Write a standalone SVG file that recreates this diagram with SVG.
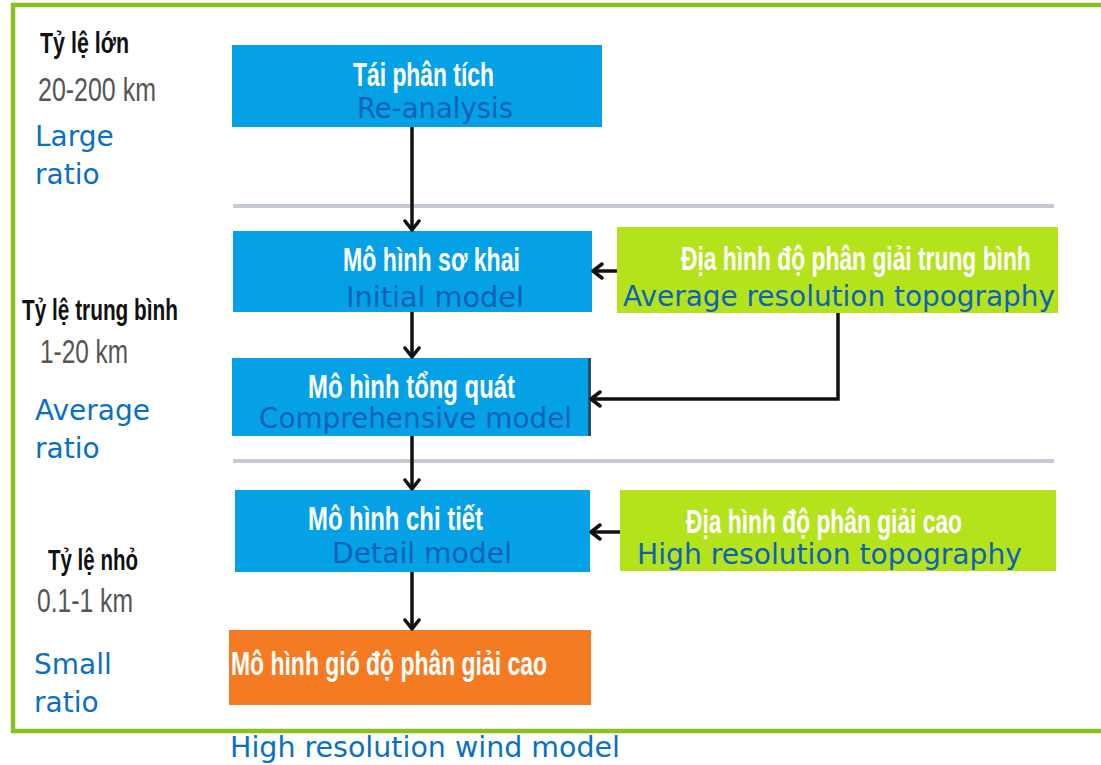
<svg xmlns="http://www.w3.org/2000/svg" width="1101" height="765" viewBox="0 0 1101 765">
<defs>
<marker id="ah" markerWidth="16" markerHeight="18" refX="13" refY="9" orient="auto" markerUnits="userSpaceOnUse">
<path d="M4,2 L13,9 L4,16" fill="none" stroke="#111" stroke-width="3.5" stroke-linecap="round" stroke-linejoin="round"/>
</marker>
</defs>
<style>
.blue{fill:#04a1e6}
.green{fill:#b4e31c}
.orange{fill:#f57b22}
.vt{font-family:"Liberation Sans",Arial,sans-serif;font-weight:bold;fill:#fff;font-size:33px}
.en{font-family:"DejaVu Sans","Noto Sans",sans-serif;fill:#0e62b6;font-size:28px}
.side{font-family:"DejaVu Sans","Noto Sans",sans-serif;fill:#0a70c2;font-size:28px}
.lbl{font-family:"Liberation Sans",Arial,sans-serif;font-weight:bold;fill:#111;font-size:29px}
.km{font-family:"Liberation Sans",Arial,sans-serif;fill:#555;font-size:33px}
.sep{stroke:#c3cad2;stroke-width:4}
.conn{fill:none;stroke:#111;stroke-width:3.5}
</style>
<rect x="0" y="0" width="1101" height="765" fill="#fff"/>
<path d="M1101,5 L13,5 L13,731 L1101,731" fill="none" stroke="#8cc125" stroke-width="4.5"/>
<line class="sep" x1="233" y1="206" x2="1054" y2="206"/>
<line class="sep" x1="233" y1="461" x2="1054" y2="461"/>

<g id="side-labels">
<text class="lbl" x="40" y="53" textLength="89" lengthAdjust="spacingAndGlyphs">Tỷ lệ lớn</text>
<text class="km" x="38" y="101" textLength="118" lengthAdjust="spacingAndGlyphs">20-200 km</text>
<text class="side" x="35" y="146">Large</text>
<text class="side" x="35" y="184">ratio</text>
<text class="lbl" x="22" y="320" textLength="156" lengthAdjust="spacingAndGlyphs">Tỷ lệ trung bình</text>
<text class="km" x="40" y="363" textLength="88" lengthAdjust="spacingAndGlyphs">1-20 km</text>
<text class="side" x="35" y="420">Average</text>
<text class="side" x="35" y="458">ratio</text>
<text class="lbl" x="48" y="570" textLength="90" lengthAdjust="spacingAndGlyphs">Tỷ lệ nhỏ</text>
<text class="km" x="37" y="612" textLength="96" lengthAdjust="spacingAndGlyphs">0.1-1 km</text>
<text class="side" x="34" y="674">Small</text>
<text class="side" x="34" y="712">ratio</text>
<text class="side" x="230" y="757" textLength="390" lengthAdjust="spacingAndGlyphs">High resolution wind model</text>
</g>

<g id="n1">
<rect class="blue" x="232" y="45" width="370" height="82"/>
<text class="vt" x="353" y="86" textLength="141" lengthAdjust="spacingAndGlyphs">Tái phân tích</text>
<text class="en" x="357" y="118" textLength="156" lengthAdjust="spacingAndGlyphs">Re-analysis</text>
</g>
<g id="n2">
<rect class="blue" x="233" y="231" width="359" height="81"/>
<text class="vt" x="343" y="271" textLength="177" lengthAdjust="spacingAndGlyphs">Mô hình sơ khai</text>
<text class="en" x="346" y="307" textLength="178" lengthAdjust="spacingAndGlyphs">Initial model</text>
</g>
<g id="n3">
<rect class="blue" x="232" y="358" width="358" height="78"/>
<rect x="588" y="358" width="3" height="78" fill="#2b4e6e"/>
<text class="vt" x="308" y="398" textLength="207" lengthAdjust="spacingAndGlyphs">Mô hình tổng quát</text>
<text class="en" x="259" y="428" textLength="313" lengthAdjust="spacingAndGlyphs">Comprehensive model</text>
</g>
<g id="n4">
<rect class="blue" x="235" y="490" width="355" height="82"/>
<text class="vt" x="308" y="530" textLength="175" lengthAdjust="spacingAndGlyphs">Mô hình chi tiết</text>
<text class="en" x="332" y="563" textLength="180" lengthAdjust="spacingAndGlyphs">Detail model</text>
</g>
<g id="n5">
<rect class="orange" x="229" y="630" width="362" height="75"/>
<text class="vt" x="231" y="675" textLength="316" lengthAdjust="spacingAndGlyphs">Mô hình gió độ phân giải cao</text>
</g>
<g id="g1">
<rect class="green" x="617" y="227" width="441" height="86"/>
<text class="vt" transform="translate(681,270) scale(0.6,1)" x="0" y="0" textLength="583" lengthAdjust="spacingAndGlyphs">Địa hình độ phân giải trung bình</text>
<text class="en" x="623" y="306" textLength="432" lengthAdjust="spacingAndGlyphs">Average resolution topography</text>
</g>
<g id="g2">
<rect class="green" x="620" y="490" width="436" height="81"/>
<text class="vt" x="686" y="533" textLength="276" lengthAdjust="spacingAndGlyphs">Địa hình độ phân giải cao</text>
<text class="en" x="637" y="564" textLength="385" lengthAdjust="spacingAndGlyphs">High resolution topography</text>
</g>

<g id="connectors">
<line class="conn" x1="412" y1="127" x2="412" y2="230" marker-end="url(#ah)"/>
<line class="conn" x1="412" y1="312" x2="412" y2="357" marker-end="url(#ah)"/>
<line class="conn" x1="412" y1="436" x2="412" y2="489" marker-end="url(#ah)"/>
<line class="conn" x1="412" y1="572" x2="412" y2="629" marker-end="url(#ah)"/>
<line class="conn" x1="617" y1="271" x2="593" y2="271" marker-end="url(#ah)"/>
<path class="conn" d="M838,313 L838,399 L591,399" marker-end="url(#ah)"/>
<line class="conn" x1="620" y1="532" x2="591" y2="532" marker-end="url(#ah)"/>
</g>
</svg>
